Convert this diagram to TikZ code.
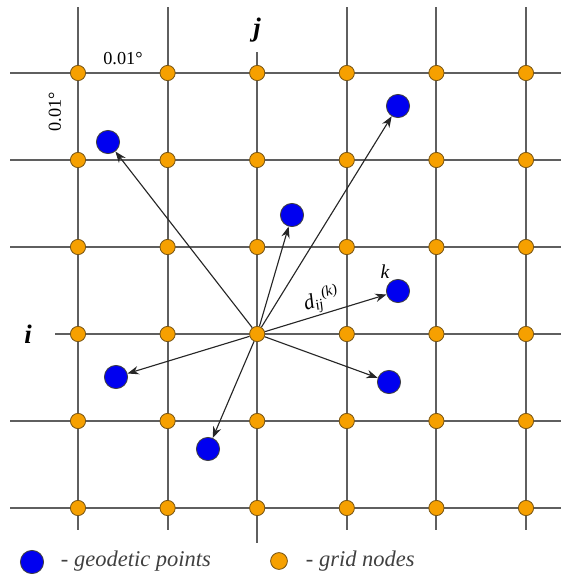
\documentclass[tikz,border=0pt]{standalone}
\usepackage{fontspec}
\setmainfont{Liberation Serif}
\usetikzlibrary{arrows.meta}

\definecolor{linegray}{RGB}{95,95,95}
\definecolor{nodeorange}{RGB}{246,160,0}
\definecolor{nodeedge}{RGB}{120,85,20}
\definecolor{pointblue}{RGB}{0,0,240}

\begin{document}
\begin{tikzpicture}[>={Stealth[length=8pt, width=6pt]}, x=0.025cm, y=-0.025cm,
    gridline/.style={draw=linegray, line width=1.4pt},
    gridnode/.style={circle, draw=nodeedge, fill=nodeorange, line width=0.6pt, minimum size=0.38cm, inner sep=0pt},
    geopoint/.style={circle, draw=black!75, fill=pointblue, line width=0.6pt, minimum size=0.58cm, inner sep=0pt},
    vector/.style={->, draw=black!85, line width=0.8pt}]
    \useasboundingbox (0,0) rectangle (561,574);

    % Grid lines
    \foreach \c in {0,1,3,4,5}
        \draw[gridline] ({78+89.6*\c},7) -- ({78+89.6*\c},530);
    \draw[gridline] (257.2,52) -- (257.2,543);
    \foreach \r in {0,1,2,4,5}
        \draw[gridline] (10,{73+87*\r}) -- (561,{73+87*\r});
    \draw[gridline] (55,334) -- (561,334);

    % Grid nodes
    \foreach \r in {0,...,5}
        \foreach \c in {0,...,5}
            \node[gridnode] (g\r\c) at ({78+89.6*\c},{73+87*\r}) {};

    % Geodetic points
    \node[geopoint] (p1) at (108,142) {};
    \node[geopoint] (p2) at (398,106) {};
    \node[geopoint] (p3) at (292,215) {};
    \node[geopoint] (pk) at (398,291) {};
    \node[geopoint] (p5) at (116,377) {};
    \node[geopoint] (p6) at (389,382) {};
    \node[geopoint] (p7) at (208,449) {};

    \draw[vector] (g32) -- (p1);
    \draw[vector] (g32) -- (p2);
    \draw[vector] (g32) -- (p3);
    \draw[vector] (g32) -- (pk) node[pos=0.5, sloped, above, inner sep=1pt] {\fontsize{15}{17}\selectfont\itshape d\textsubscript{ij}\textsuperscript{(k)}};
    \draw[vector] (g32) -- (p5);
    \draw[vector] (g32) -- (p6);
    \draw[vector] (g32) -- (p7);

    % Labels
    \node (klab) at (385,272) {\fontsize{14}{16}\selectfont\itshape k};
    \node (jlab) at (257,30) {\fontsize{19}{21}\selectfont\bfseries\itshape j};
    \node (ilab) at (28,334) {\fontsize{19}{21}\selectfont\bfseries\itshape i};
    \node (stepx) at (123,59) {\fontsize{13}{15}\selectfont 0.01°};
    \node[rotate=90] (stepy) at (55,112) {\fontsize{13}{15}\selectfont 0.01°};

    % Legend
    \node[geopoint] (lgeo) at (32,562) {};
    \node[anchor=west, text=black!75] (lgeotext) at (56,561) {\fontsize{16}{18}\selectfont\itshape - geodetic points};
    \node[gridnode, minimum size=0.42cm] (lgrid) at (279,561) {};
    \node[anchor=west, text=black!75] (lgridtext) at (301,561) {\fontsize{16}{18}\selectfont\itshape - grid nodes};
\end{tikzpicture}
\end{document}
